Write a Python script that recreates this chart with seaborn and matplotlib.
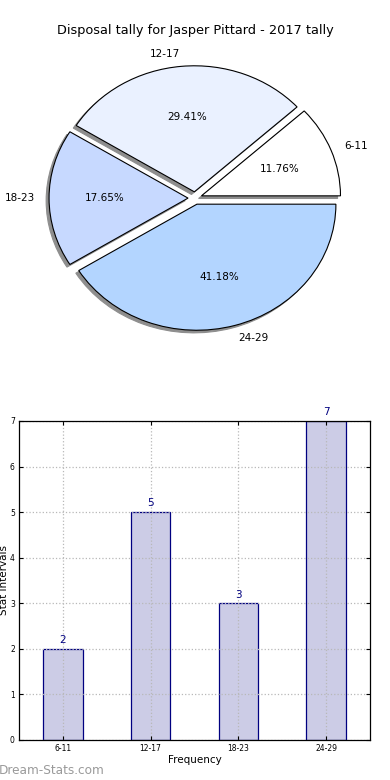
import matplotlib
matplotlib.use("Agg")
import matplotlib.pyplot as plt
import seaborn as sns

# Data
categories = ["6-11", "12-17", "18-23", "24-29"]
counts = [2, 5, 3, 7]
title = "Disposal tally for Jasper Pittard - 2017 tally"

sns.set_style("white")
plt.rcParams["font.family"] = ["DejaVu Sans"]
plt.rcParams.update({"text.color": "black", "axes.labelcolor": "black",
                     "xtick.color": "black", "ytick.color": "black"})

fig = plt.figure(figsize=(3.9, 7.8), dpi=100)

# Pie chart (top)
ax_pie = fig.add_axes([0.0545, 0.544, 0.891, 0.404])
pie_colors = ["#ffffff", "#eaf1ff", "#c7d9ff", "#b3d5ff"]
wedges, texts, autotexts = ax_pie.pie(
    counts, labels=categories, colors=pie_colors, explode=[0.05] * 4,
    autopct="%1.2f%%",
    shadow={"ox": -0.015, "oy": -0.015, "facecolor": "#8e8e8e",
            "edgecolor": "#8e8e8e", "alpha": 1},
    startangle=0,
    wedgeprops={"edgecolor": "black", "linewidth": 0.8},
    textprops={"fontsize": 7.5},
)
ax_pie.set_aspect("auto")
ax_pie.set_xlim(-1.25, 1.25)
ax_pie.set_ylim(-1.25, 1.25)
fig.text(0.5, 0.961, title, ha="center", va="center", fontsize=9.3)

# Bar chart (bottom)
ax_bar = fig.add_axes([0.0487, 0.0513, 0.9, 0.409])
sns.barplot(x=categories, y=counts, ax=ax_bar, width=0.45, color="#ccccE6",
            saturation=1, edgecolor="navy", linewidth=0.9, zorder=2)
ax_bar.set_xlim(-0.5, 3.5)
ax_bar.set_ylim(0, 7)
ax_bar.set_yticks(range(0, 8))
for i, v in enumerate(counts):
    ax_bar.text(i, v + 0.08, str(v), ha="center", va="bottom",
                color="navy", fontsize=7.5)
ax_bar.set_axisbelow(False)
ax_bar.grid(True, linestyle=":", color="#b8b8b8", linewidth=0.9)
for s in ax_bar.spines.values():
    s.set_color("black")
    s.set_linewidth(0.9)
    s.set_zorder(5)
ax_bar.tick_params(axis="both", direction="in", length=3, labelsize=5.5,
                   top=True, right=True, bottom=True, left=True, pad=3)
ax_bar.set_xlabel("Frequency", fontsize=7.5, labelpad=1)
ax_bar.set_ylabel("Stat Intervals", fontsize=7.5)
ax_bar.yaxis.set_label_coords(-0.028, 0.5)

fig.text(-0.002, 0.012, "Dream-Stats.com", ha="left", va="center",
         fontsize=8.7, color="#9a9a9a")

fig.savefig("out.png", dpi=100)
